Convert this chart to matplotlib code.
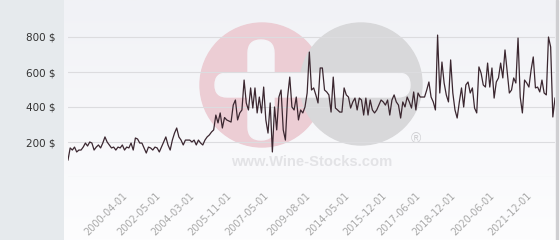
import matplotlib
matplotlib.use('Agg')
import matplotlib.pyplot as plt
import numpy as np
from matplotlib.patches import Circle, FancyBboxPatch, Rectangle
from matplotlib.colors import LinearSegmentedColormap

# ---- data (price per bottle, $) ----
prices = [
    97, 166, 154, 171, 143, 154, 154, 171, 194, 177, 200, 194, 154, 171, 183, 166, 194, 229, 200, 183,
    166, 171, 154, 171, 166, 183, 154, 171, 166, 194, 154, 223, 217, 194, 194,
    166, 137, 171, 166, 154, 171, 166, 143, 171, 200, 229, 183, 154, 211, 251, 280, 229, 211, 183, 211,
    211, 211, 200, 211, 183, 211, 194, 183, 211, 229, 240, 257, 269,
    354, 309, 366, 280, 340, 326, 320, 314, 411, 440, 326, 366, 383, 554, 423, 383, 509, 394, 509, 366,
    457, 366, 514, 326, 251, 423, 143, 400, 269, 457, 497, 269, 211, 457, 571, 400, 383, 457, 326, 383,
    366, 400, 480, 714,
    497, 509, 469, 423, 623, 623, 497, 486, 469, 371, 571, 394, 383, 371, 371, 509, 469, 457, 394, 429,
    451, 383, 451, 440, 354, 451, 354, 440, 383, 366, 383, 411, 440, 429, 411, 440, 354, 440,
    469, 429, 411, 337, 429, 400, 457, 429, 394, 486, 383, 480, 457, 457, 457, 497, 543, 457, 429, 383,
    811, 480, 657, 537, 469, 429, 669, 480, 383, 337, 429, 509, 400, 526, 543, 480,
    509, 394, 366, 629, 594, 526, 514, 651, 514, 623, 451, 543, 566, 651, 566, 726, 600, 480, 497, 566,
    537, 794, 457, 366, 554, 537, 514, 611, 686, 509, 514, 486, 554, 480, 469, 800, 743, 343, 451,
]
tick_index = [25, 40, 56, 73, 90, 109, 127, 144, 160, 176, 194, 211]
tick_labels = ['2000-04-01', '2002-05-01', '2004-03-01', '2005-11-01', '2007-05-01', '2009-08-01',
               '2014-05-01', '2015-12-01', '2017-06-01', '2018-12-01', '2020-06-01', '2021-12-01']
y_ticks = [0, 200, 400, 600, 800]
y_labels = ['', '200 $', '400 $', '600 $', '800 $']

W, H = 560, 240
fig = plt.figure(figsize=(W / 100, H / 100), dpi=100)

# ---- background + watermark (pixel coordinates) ----
bg = fig.add_axes([0, 0, 1, 1], zorder=0)
bg.axis('off')
bg.add_patch(Rectangle((0, 0), 63, H, color='#e6eaed', zorder=0))
grad = np.linspace(0, 1, 200).reshape(-1, 1)
cmap = LinearSegmentedColormap.from_list('g', ['#f1f2f6', '#fdfdfe'])
bg.imshow(grad, extent=(64, 556, H, 0), cmap=cmap, aspect='auto', zorder=0.5)
bg.add_patch(Rectangle((556, 0), 2, H, color='#cfcfd2', zorder=1))
bg.add_patch(Circle((262, 85), 62, color='#eccdd4', zorder=2))
bg.add_patch(Circle((361, 84), 61, color='#d8d8da', zorder=3))
bg.add_patch(FancyBboxPatch((248, 40), 26, 100, boxstyle='round,pad=0,rounding_size=13',
                            color='#f5f5f8', zorder=4))
bg.add_patch(FancyBboxPatch((215, 73), 195, 24, boxstyle='round,pad=0,rounding_size=12',
                            color='#f5f5f8', zorder=4))
bg.text(312, 162, 'www.Wine-Stocks.com', ha='center', va='center', fontsize=10.6,
        fontweight='bold', family='Liberation Sans', color='#e3e3e6', zorder=5)
bg.text(416, 139, '®', ha='center', va='center', fontsize=10, family='Liberation Sans',
        color='#cfcfd2', zorder=5)
bg.set_xlim(0, W)
bg.set_ylim(H, 0)

# ---- main chart ----
ax = fig.add_axes([68 / W, 1 - 177 / H, 487 / W, 167 / H], zorder=2)
ax.patch.set_alpha(0)
x = np.arange(len(prices))
ax.plot(x, prices, color='#3b2730', lw=0.9, zorder=3)
ax.set_xlim(0, len(prices) - 1)
ax.set_ylim(0, 167 * 800 / 140)
ax.set_yticks(y_ticks)
ax.set_yticklabels(y_labels)
ax.yaxis.grid(True, color='#dcdcdf', lw=0.8)
ax.set_axisbelow(True)
for s in ax.spines.values():
    s.set_visible(False)
ax.tick_params(axis='y', length=0, pad=9, labelsize=7.5, labelcolor='#333333')
ax.set_xticks(tick_index)
ax.set_xticklabels(tick_labels, rotation=45, ha='right', va='top', rotation_mode='anchor',
                   color='#a8a8a8', fontsize=7)
ax.tick_params(axis='x', length=0, pad=10)

fig.savefig('out.png', dpi=100)
